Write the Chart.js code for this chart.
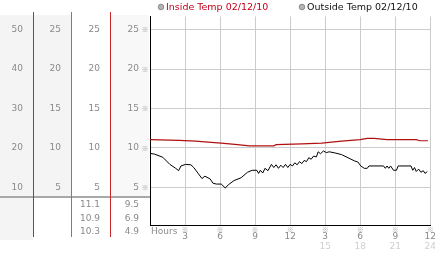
<!DOCTYPE html>
<html lang="en">
<head>
<meta charset="UTF-8">
<title>Inside / Outside Temp 02/12/10</title>
<script src="https://cdn.jsdelivr.net/npm/chart.js"></script>
<style>
  html, body { margin: 0; padding: 0; background: #fff; }
</style>
</head>
<body>
<canvas id="tempChart" width="442" height="253"></canvas>
<script>
// ---- data ----
const insideLabel = 'Inside Temp 02/12/10';
const outsideLabel = 'Outside Temp 02/12/10';

const insideHours = [0, 2.5, 3.9, 4.7, 6.1, 7.5, 8.5, 10.6, 10.8, 13.0, 14.7, 16.4, 18.0, 18.6, 19.2, 20.3, 22.8, 23.1, 23.8];
const insideTemps = [11.05, 10.95, 10.85, 10.75, 10.6, 10.4, 10.25, 10.25, 10.4, 10.5, 10.6, 10.85, 11.05, 11.2, 11.2, 11.05, 11.05, 10.9, 10.9];

const outsideHours = [0, 0.4, 1.1, 1.7, 2.2, 2.45, 2.65, 3.05, 3.5, 3.75, 4.15, 4.45, 4.7, 5.15, 5.4, 5.7, 6.1, 6.45, 6.7, 7.2,
  7.8, 8.35, 8.75, 9.15, 9.3, 9.45, 9.65, 9.85, 10.1, 10.4, 10.6, 10.8, 11.0, 11.2, 11.4, 11.6, 11.8, 12.0, 12.2, 12.4,
  12.6, 12.8, 13.0, 13.2, 13.4, 13.6, 13.8, 14.0, 14.25, 14.4, 14.6, 14.85, 15.1, 15.35, 15.85, 16.4, 16.95, 17.5, 17.8, 18.05,
  18.35, 18.6, 18.75, 20.0, 20.15, 20.3, 20.45, 20.6, 20.85, 21.1, 21.25, 22.35, 22.5, 22.65, 22.8, 23.0, 23.2, 23.4, 23.55, 23.75];
const outsideTemps = [9.3, 9.2, 8.8, 7.9, 7.4, 7.1, 7.7, 7.9, 7.85, 7.5, 6.7, 6.1, 6.4, 6.05, 5.5, 5.4, 5.4, 4.9, 5.3, 5.85,
  6.2, 6.9, 7.15, 7.15, 6.75, 7.15, 6.8, 7.4, 7.1, 7.9, 7.5, 7.85, 7.4, 7.8, 7.5, 7.9, 7.5, 7.9, 7.7, 8.1,
  7.85, 8.25, 8.0, 8.4, 8.25, 8.75, 8.55, 8.95, 8.85, 9.5, 9.25, 9.6, 9.4, 9.5, 9.35, 9.15, 8.75, 8.35, 8.2, 7.7,
  7.4, 7.4, 7.7, 7.7, 7.4, 7.7, 7.4, 7.7, 7.15, 7.15, 7.7, 7.7, 7.15, 7.5, 7.0, 7.3, 6.9, 7.1, 6.75, 7.0];

// summary rows under the left panel (max / avg / min)
const insideStats = ['11.1', '10.9', '10.3'];
const outsideStats = ['9.5', '6.9', '4.9'];

const hourTicks = [3, 6, 9, 12, 15, 18, 21, 24];
const hourLabels = ['3', '6', '9', '12', '3', '6', '9', '12'];
const pmLabels = ['', '', '', '', '15', '18', '21', '24'];
const tempTicks = [5, 10, 15, 20, 25];
const wideTicks = [10, 20, 30, 40, 50];

// ---- helpers ----
const FONT = '"DejaVu Sans", Verdana, sans-serif';
const GRID = '#cccccc';
const fixedTicks = vals => s => { s.ticks = vals.map(v => ({ value: v })); };
const fitWidth = w => s => { s.width = w; };
const fitHeight = h => s => { s.height = h; };
const toPoints = (xs, ys) => xs.map((x, i) => ({ x: x, y: ys[i] }));

function sideAxis(min, max, ticks, weight, width) {
  return {
    type: 'linear', position: 'left', min: min, max: max, weight: weight,
    afterBuildTicks: fixedTicks(ticks),
    afterFit: fitWidth(width),
    grid: { display: false, drawTicks: false },
    border: { display: false },
    ticks: { padding: 11, color: '#8a8a8a', font: { family: FONT, size: 9 } }
  };
}

// left panel, tick marks and legend
const panelPlugin = {
  id: 'panel',
  beforeDraw(chart) {
    const c = chart.ctx, ca = chart.chartArea, s = chart.scales;
    const sep = ca.bottom - 28;
    c.save();
    c.fillStyle = '#f4f4f4';
    c.fillRect(s.y1.left, 15, s.y1.right - s.y1.left - 1, 225);
    c.fillRect(s.y2.left, 15, s.y2.right - s.y2.left - 1, sep - 15);
    c.fillStyle = '#f8f8f8';
    c.fillRect(s.y.left, 15, s.y.right - s.y.left - 1, sep - 15);
    c.restore();
  },
  afterDraw(chart) {
    const c = chart.ctx, ca = chart.chartArea, s = chart.scales;
    const sep = ca.bottom - 28;
    c.save();
    // separator
    c.fillStyle = '#a8a8a8';
    c.fillRect(0, sep - 1, ca.left, 2);
    // coloured column lines
    [[s.y1, '#2458d8'], [s.y2, '#2db52d'], [s.y3, '#c82828']].forEach(([sc, col]) => {
      c.fillStyle = col;
      c.fillRect(Math.round(sc.right) - 1, 12, 1, 225);
    });
    // stats
    c.font = '9px ' + FONT;
    c.fillStyle = '#8a8a8a';
    c.textAlign = 'right';
    c.textBaseline = 'middle';
    insideStats.forEach((t, i) => c.fillText(t, s.y3.right - 11, sep + 8 + i * 13.5));
    outsideStats.forEach((t, i) => c.fillText(t, s.y.right - 11, sep + 8 + i * 13.5));
    // small tick marks
    c.font = '7px "Noto Sans CJK JP", ' + FONT;
    c.fillStyle = '#a0a0a0';
    c.textAlign = 'center';
    tempTicks.forEach(v => c.fillText('\u203B', ca.left - 5, s.y.getPixelForValue(v)));
    hourTicks.forEach(v => c.fillText('\u203B', s.x.getPixelForValue(v), ca.bottom + 4));
    // axis title
    c.font = '9px ' + FONT;
    c.fillStyle = '#8a8a8a';
    c.textAlign = 'left';
    c.fillText('Hours', ca.left + 1, ca.bottom + 7);
    // legend
    const items = [[insideLabel, '#c4001a', 161], [outsideLabel, '#111', 302]];
    c.font = '9.5px ' + FONT;
    items.forEach(([label, col, lx]) => {
      c.beginPath();
      c.arc(lx, 7, 2.8, 0, Math.PI * 2);
      c.fillStyle = '#b4b4b4';
      c.fill();
      c.strokeStyle = '#8c8c8c';
      c.lineWidth = 1;
      c.stroke();
      c.fillStyle = col;
      c.fillText(label, lx + 5, 7.5);
    });
    c.restore();
  }
};

new Chart(document.getElementById('tempChart'), {
  type: 'line',
  data: {
    datasets: [
      { label: insideLabel, data: toPoints(insideHours, insideTemps), borderColor: '#b01010', borderWidth: 1.2, pointRadius: 0, tension: 0, fill: false },
      { label: outsideLabel, data: toPoints(outsideHours, outsideTemps), borderColor: '#000', borderWidth: 1, pointRadius: 0, tension: 0, fill: false }
    ]
  },
  options: {
    responsive: false,
    animation: false,
    layout: { padding: { top: 13, right: 4, bottom: 2, left: 0 } },
    plugins: { legend: { display: false }, tooltip: { enabled: false } },
    scales: {
      x: {
        type: 'linear', position: 'bottom', min: 0, max: 24, weight: 0,
        afterBuildTicks: fixedTicks(hourTicks),
        afterFit: fitHeight(15),
        grid: { color: GRID, drawTicks: false },
        border: { color: '#000' },
        ticks: { padding: 6, autoSkip: false, maxRotation: 0, color: '#8a8a8a', font: { family: FONT, size: 9 },
                 callback: (v, i) => hourLabels[i] }
      },
      x2: {
        type: 'linear', position: 'bottom', min: 0, max: 24, weight: 1,
        afterBuildTicks: fixedTicks(hourTicks),
        afterFit: fitHeight(11),
        grid: { display: false, drawTicks: false },
        border: { display: false },
        ticks: { padding: 1, autoSkip: false, maxRotation: 0, color: '#d0d0d0', font: { family: FONT, size: 9 },
                 callback: (v, i) => pmLabels[i] }
      },
      y: {
        type: 'linear', position: 'left', min: 0.2, max: 26.7, weight: 0,
        afterBuildTicks: fixedTicks(tempTicks),
        afterFit: fitWidth(39),
        grid: { color: GRID, drawTicks: false },
        border: { color: '#000' },
        ticks: { padding: 11, color: '#8a8a8a', font: { family: FONT, size: 9 } }
      },
      y3: sideAxis(0.2, 26.7, tempTicks, 1, 39),
      y2: sideAxis(0.2, 26.7, tempTicks, 2, 38),
      y1: sideAxis(0.4, 53.4, wideTicks, 3, 34)
    }
  },
  plugins: [panelPlugin]
});
</script>
</body>
</html>
